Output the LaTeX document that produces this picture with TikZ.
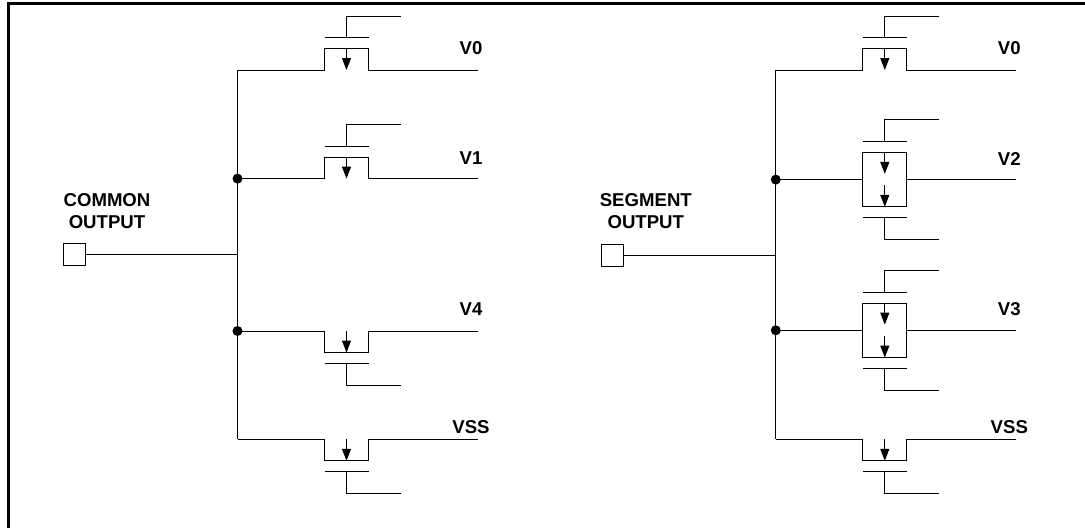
\documentclass[tikz,border=0pt]{standalone}
\usepackage{fontspec}
\setmainfont{Liberation Sans}
\usetikzlibrary{arrows.meta,positioning}
\tikzset{
block/.style = {draw, fill=white, rectangle, minimum width=44pt, minimum height=54.5pt, inner sep=0pt},
pad/.style   = {draw, fill=white, rectangle, minimum size=22pt, inner sep=0pt},
dot/.style   = {fill=black, circle, minimum size=10pt, inner sep=0pt},
tmp/.style   = {coordinate},
output/.style = {coordinate},
lbl/.style   = {font=\fontsize{18.6}{22}\selectfont\bfseries, align=center, inner sep=0pt}
}
\newcommand{\fetgate}[3]{%
  \node [tmp, #3 of=#2, node distance=11pt]      (#1plate) {};
  \node [tmp, left of=#1plate, node distance=22pt]  (#1pl) {};
  \node [tmp, right of=#1plate, node distance=22pt] (#1pr) {};
  \node [tmp, #3 of=#1plate, node distance=21.5pt]  (#1gt) {};
  \node [tmp, right of=#1gt, node distance=54pt]    (#1ge) {};
  \draw (#1pl) -- (#1pr);
  \draw (#1plate) -- (#1gt) -- (#1ge);
}
\newcommand{\fetchan}[4]{%
  \node [tmp, right of=#2, node distance=87pt]   (#1sw)  {};
  \node [tmp, #3 of=#1sw, node distance=21.5pt]  (#1sc)  {};
  \node [tmp, right of=#1sc, node distance=22pt] (#1mid) {};
  \node [tmp, right of=#1mid, node distance=22pt] (#1dc) {};
  \node [tmp, #4 of=#1dc, node distance=21.5pt]  (#1dw)  {};
  \node [tmp, #4 of=#1mid, node distance=21.5pt] (#1tip) {};
  \node [output, right of=#1dw, node distance=109pt] (#1out) {};
  \draw (#2) -- (#1sw) -- (#1sc) -- (#1dc) -- (#1dw) -- (#1out);
}
\newcommand{\fetbox}[2]{%
  \node [block, right of=#2, node distance=109pt] (#1box) {};
  \node [tmp, above of=#1box, node distance=27.2pt] (#1up) {};
  \node [tmp, below of=#1box, node distance=27.2pt] (#1lo) {};
  \node [tmp, below of=#1up, node distance=21.5pt]  (#1ua) {};
  \node [tmp, above of=#1lo, node distance=21.5pt]  (#1la) {};
  \node [output, right of=#1box, node distance=131pt] (#1out) {};
  \draw (#2) -- (#1box);
  \draw (#1box) -- (#1out);
  \fetgate{#1a}{#1up}{above}
  \fetgate{#1b}{#1lo}{below}
  \draw [->] (#1up) -- (#1ua);
  \draw [->] (#1la) -- (#1lo);
}
\begin{document}
\begin{tikzpicture}[x=1pt, y=-1pt, line width=1pt, >={Triangle[length=12pt,width=9pt]}]
  \useasboundingbox (0,0) rectangle (1085,528);

  \coordinate (framer) at (1085,3.5);
  \coordinate (framec) at (8.2,3.5);
  \coordinate (frameb) at (8.2,528);
  \draw [line width=3.2pt] (framer) -- (framec) -- (frameb);

  \node [pad] (lpad) at (74.5,254.6) {};
  \node [lbl, above of=lpad, node distance=44pt, xshift=32.5pt] (ltext) {COMMON\\OUTPUT};
  \node [tmp, right of=lpad, node distance=163pt] (ltee)  {};
  \node [tmp, above of=ltee, node distance=184.6pt] (ltapa) {};
  \node [tmp, above of=ltee, node distance=76pt]    (ltapb) {};
  \node [tmp, below of=ltee, node distance=76.4pt]  (ltapc) {};
  \node [tmp, below of=ltee, node distance=184.7pt] (ltapd) {};
  \draw (lpad) -- (ltee);
  \draw (ltapa) -- (ltapd);
  \node [dot] (ldotb) at (ltapb) {};
  \node [dot] (ldotc) at (ltapc) {};

  \fetchan{lva}{ltapa}{above}{below}
  \fetgate{lva}{lvamid}{above}
  \draw [->] (lvamid) -- (lvatip);
  \node [lbl, above of=lvaout, node distance=22pt, xshift=-6.5pt] (lvatext) {V0};

  \fetchan{lvb}{ltapb}{above}{below}
  \fetgate{lvb}{lvbmid}{above}
  \draw [->] (lvbmid) -- (lvbtip);
  \node [lbl, above of=lvbout, node distance=20.5pt, xshift=-6.5pt] (lvbtext) {V1};

  \fetchan{lvc}{ltapc}{below}{above}
  \fetgate{lvc}{lvcmid}{below}
  \draw [->] (lvctip) -- (lvcmid);
  \node [lbl, above of=lvcout, node distance=22pt, xshift=-6.5pt] (lvctext) {V4};

  \fetchan{lvd}{ltapd}{below}{above}
  \fetgate{lvd}{lvdmid}{below}
  \draw [->] (lvdtip) -- (lvdmid);
  \node [lbl, above of=lvdout, node distance=12.7pt, xshift=-6.5pt] (lvdtext) {VSS};

  \node [pad] (rpad) at (612.8,255.3) {};
  \node [lbl, above of=rpad, node distance=44.3pt, xshift=33pt] (rtext) {SEGMENT\\OUTPUT};
  \node [tmp, right of=rpad, node distance=163pt] (rtee)  {};
  \node [tmp, above of=rtee, node distance=185.3pt] (rtapa) {};
  \node [tmp, above of=rtee, node distance=75.7pt]  (rtapb) {};
  \node [tmp, below of=rtee, node distance=75pt]    (rtapc) {};
  \node [tmp, below of=rtee, node distance=184pt]   (rtapd) {};
  \draw (rpad) -- (rtee);
  \draw (rtapa) -- (rtapd);
  \node [dot] (rdotb) at (rtapb) {};
  \node [dot] (rdotc) at (rtapc) {};

  \fetchan{rva}{rtapa}{above}{below}
  \fetgate{rva}{rvamid}{above}
  \draw [->] (rvamid) -- (rvatip);
  \node [lbl, above of=rvaout, node distance=22pt, xshift=-6.5pt] (rvatext) {V0};

  \fetbox{rvb}{rtapb}
  \node [lbl, above of=rvbout, node distance=21pt, xshift=-6.5pt] (rvbtext) {V2};

  \fetbox{rvc}{rtapc}
  \node [lbl, above of=rvcout, node distance=21.5pt, xshift=-6.5pt] (rvctext) {V3};

  \fetchan{rvd}{rtapd}{below}{above}
  \fetgate{rvd}{rvdmid}{below}
  \draw [->] (rvdtip) -- (rvdmid);
  \node [lbl, above of=rvdout, node distance=12.7pt, xshift=-6.5pt] (rvdtext) {VSS};
\end{tikzpicture}
\end{document}
